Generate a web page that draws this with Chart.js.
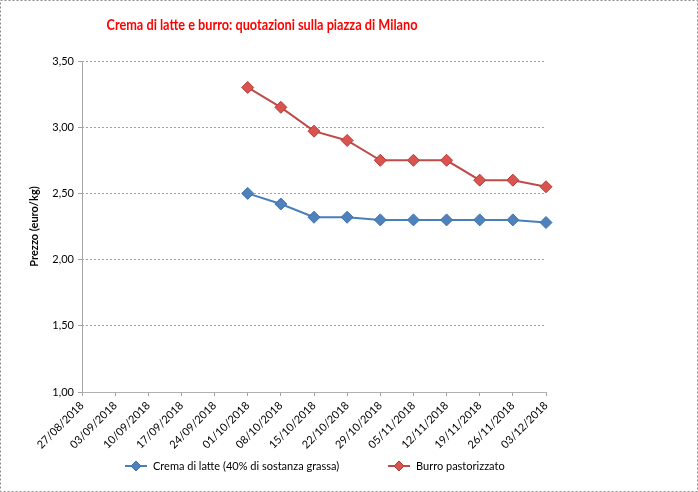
<!DOCTYPE html>
<html>
<head>
<meta charset="utf-8">
<script src="https://cdn.jsdelivr.net/npm/chart.js@4/dist/chart.umd.min.js"></script>
<style>
  html, body { margin: 0; padding: 0; background: #fff; }
  #wrap { width: 698px; height: 492px; position: relative; }
</style>
</head>
<body>
<div id="wrap"><canvas id="chart" width="698" height="492"></canvas></div>
<script>
const dates = ['27/08/2018', '03/09/2018', '10/09/2018', '17/09/2018', '24/09/2018', '01/10/2018', '08/10/2018',
    '15/10/2018', '22/10/2018', '29/10/2018', '05/11/2018', '12/11/2018', '19/11/2018', '26/11/2018', '03/12/2018']
const crema = [null, null, null, null, null, 2.50, 2.42, 2.32, 2.32, 2.30, 2.30, 2.30, 2.30, 2.30, 2.28]
const burro = [null, null, null, null, null, 3.30, 3.15, 2.97, 2.90, 2.75, 2.75, 2.75, 2.60, 2.60, 2.55]
const titleText = 'Crema di latte e burro: quotazioni sulla piazza di Milano'
const FONT = 'Lato, "Open Sans", sans-serif'

// title (narrowed like Calibri), frame, solid y axis line and the legend
const extras = {
    id: 'extras',
    afterDraw(chart) {
        const ctx = chart.ctx
        const area = chart.chartArea
        ctx.save()
        ctx.font = 'bold 15px ' + FONT
        ctx.fillStyle = '#ff0000'
        ctx.textBaseline = 'middle'
        ctx.textAlign = 'center'
        const w = ctx.measureText(titleText).width
        ctx.translate(262, 25)
        ctx.scale(Math.min(1, 311 / w), 1)
        ctx.fillText(titleText, 0, 0)
        ctx.restore()

        ctx.save()
        ctx.strokeStyle = '#8a8a8a'
        ctx.lineWidth = 1
        ctx.setLineDash([2, 2])
        ctx.strokeRect(0.5, 0.5, chart.width - 1, chart.height - 1)
        ctx.setLineDash([])
        ctx.strokeStyle = '#a6a6a6'
        ctx.beginPath()
        ctx.moveTo(Math.round(area.left) + 0.5, area.top)
        ctx.lineTo(Math.round(area.left) + 0.5, area.bottom)
        ctx.stroke()

        // legend: line + diamond + label, placed under the plot
        const lx = [125, 388]
        const ly = 466
        ctx.font = '11px ' + FONT
        ctx.textBaseline = 'middle'
        ctx.fillStyle = '#000'
        chart.data.datasets.forEach((ds, i) => {
            ctx.strokeStyle = ds.borderColor
            ctx.lineWidth = 2
            ctx.beginPath()
            ctx.moveTo(lx[i], ly)
            ctx.lineTo(lx[i] + 22, ly)
            ctx.stroke()
            ctx.fillStyle = ds.backgroundColor
            ctx.strokeStyle = ds.pointBorderColor
            ctx.lineWidth = 1
            Chart.helpers.drawPoint(ctx, { pointStyle: 'rectRot', radius: 5, rotation: 0, borderWidth: 1 }, lx[i] + 11, ly)
            ctx.fillStyle = '#000'
            ctx.fillText(ds.label, lx[i] + 28, ly)
        })
        ctx.restore()
    }
}

new Chart(document.getElementById('chart'), {
    type: 'line',
    data: {
        labels: dates,
        datasets: [{
            label: 'Crema di latte (40% di sostanza grassa)',
            data: crema,
            borderColor: '#4a7ebb',
            backgroundColor: '#4f81bd',
            pointStyle: 'rectRot',
            pointRadius: 6,
            pointBorderColor: '#3f72ad',
            pointBorderWidth: 1,
            borderWidth: 2,
            fill: false
        }, {
            label: 'Burro pastorizzato',
            data: burro,
            borderColor: '#be4b48',
            backgroundColor: '#d9534f',
            pointStyle: 'rectRot',
            pointRadius: 6,
            pointBorderColor: '#b33c38',
            pointBorderWidth: 1,
            borderWidth: 2,
            fill: false
        }]
    },
    options: {
        responsive: false,
        animation: false,
        layout: { padding: { left: 24, right: 152, top: 61, bottom: 0 } },
        plugins: {
            title: { display: false },
            legend: { display: false },
            tooltip: { enabled: false }
        },
        scales: {
            x: {
                offset: false,
                afterFit(s) { s.height = 100 },
                grid: { drawOnChartArea: false, drawTicks: true, tickLength: 4, color: '#a0a0a0' },
                border: { color: '#b0b0b0', dash: [2, 2] },
                ticks: {
                    autoSkip: false,
                    maxRotation: 45,
                    minRotation: 45,
                    color: '#000',
                    font: { family: FONT, size: 11 }
                }
            },
            y: {
                min: 1,
                max: 3.5,
                afterFit(s) { s.width = 58 },
                grid: { color: '#a0a0a0', tickLength: 4, drawTicks: true },
                border: { display: false, dash: [2, 2] },
                ticks: {
                    stepSize: 0.5,
                    color: '#000',
                    padding: 4,
                    font: { family: FONT, size: 11 },
                    callback: v => v.toFixed(2).replace('.', ',')
                },
                title: {
                    display: true,
                    text: 'Prezzo (euro/kg)',
                    color: '#000',
                    font: { family: FONT, size: 11, weight: 'bold' }
                }
            }
        }
    },
    plugins: [extras]
})
</script>
</body>
</html>
